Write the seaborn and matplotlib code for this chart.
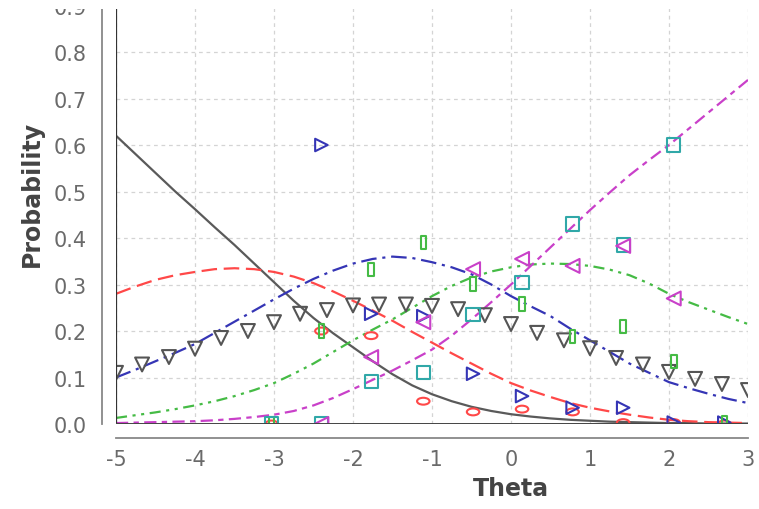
import numpy as np
import pandas as pd
import matplotlib
matplotlib.use("Agg")
import matplotlib.pyplot as plt
from matplotlib.path import Path
from matplotlib.patches import Rectangle
from matplotlib.transforms import Affine2D
import seaborn as sns

# ---- data ----
theta = [-5.0, -4.75, -4.5, -4.25, -4.0, -3.75, -3.5, -3.25, -3.0, -2.75,
         -2.5, -2.25, -2.0, -1.75, -1.5, -1.25, -1.0, -0.75, -0.5, -0.25,
         0.0, 0.25, 0.5, 0.75, 1.0, 1.25, 1.5, 1.75, 2.0, 2.25, 2.5, 2.75, 3.0]
p_cat0 = [0.62, 0.58, 0.54, 0.50, 0.462, 0.423, 0.385, 0.345, 0.305, 0.265,
          0.228, 0.195, 0.165, 0.135, 0.107, 0.083, 0.064, 0.049, 0.037, 0.028,
          0.021, 0.016, 0.012, 0.009, 0.007, 0.005, 0.004, 0.003, 0.002, 0.002,
          0.001, 0.001, 0.001]
p_cat1 = [0.28, 0.296, 0.31, 0.32, 0.327, 0.333, 0.335, 0.333, 0.327, 0.317,
          0.303, 0.285, 0.265, 0.244, 0.222, 0.198, 0.175, 0.152, 0.13, 0.108,
          0.088, 0.072, 0.058, 0.045, 0.035, 0.027, 0.02, 0.014, 0.009, 0.006,
          0.004, 0.003, 0.002]
p_cat2 = [0.10, 0.117, 0.135, 0.153, 0.172, 0.196, 0.22, 0.244, 0.268, 0.291,
          0.312, 0.33, 0.345, 0.355, 0.36, 0.357, 0.348, 0.337, 0.322, 0.3,
          0.275, 0.253, 0.232, 0.205, 0.18, 0.155, 0.13, 0.11, 0.09, 0.077,
          0.065, 0.054, 0.045]
p_cat3 = [0.013, 0.019, 0.025, 0.032, 0.04, 0.049, 0.06, 0.073, 0.088, 0.108,
          0.13, 0.155, 0.18, 0.203, 0.225, 0.25, 0.275, 0.297, 0.315, 0.328,
          0.337, 0.343, 0.345, 0.344, 0.34, 0.332, 0.32, 0.302, 0.28, 0.262,
          0.246, 0.23, 0.215]
p_cat4 = [0.002, 0.003, 0.004, 0.005, 0.006, 0.008, 0.011, 0.015, 0.02, 0.028,
          0.04, 0.056, 0.075, 0.095, 0.115, 0.137, 0.16, 0.19, 0.225, 0.262,
          0.30, 0.34, 0.38, 0.42, 0.46, 0.498, 0.535, 0.568, 0.60, 0.635,
          0.67, 0.705, 0.74]

obs_theta = [-3.03, -2.40, -1.77, -1.11, -0.48, 0.14, 0.78, 1.42, 2.06, 2.70]
obs_red = [0.0, 0.2, 0.19, 0.049, 0.026, 0.032, 0.026, 0.003, 0.003, 0.0]
obs_blue = [np.nan, 0.6, 0.237, 0.232, 0.108, 0.06, 0.035, 0.035, 0.003, 0.003]
obs_green = [0.0, 0.2, 0.333, 0.391, 0.301, 0.258, 0.189, 0.209, 0.135, 0.003]
obs_cyan = [0.0, 0.0, 0.092, 0.111, 0.236, 0.305, 0.43, 0.385, 0.60, np.nan]
obs_magenta = [np.nan, 0.0, 0.144, 0.219, 0.333, 0.355, 0.34, 0.383, 0.27, np.nan]

tri_theta = [-5.0, -4.67, -4.33, -4.0, -3.67, -3.33, -3.0, -2.67, -2.33, -2.0,
             -1.67, -1.33, -1.0, -0.67, -0.33, 0.0, 0.33, 0.67, 1.0, 1.33,
             1.67, 2.0, 2.33, 2.67, 3.0]
tri_vals = [0.11, 0.128, 0.144, 0.162, 0.185, 0.2, 0.219, 0.237, 0.245, 0.255,
            0.257, 0.257, 0.254, 0.247, 0.234, 0.215, 0.196, 0.18, 0.163, 0.142,
            0.128, 0.112, 0.097, 0.086, 0.073]

x_ticks = [-5, -4, -3, -2, -1, 0, 1, 2, 3]
y_ticks = [0.0, 0.1, 0.2, 0.3, 0.4, 0.5, 0.6, 0.7, 0.8, 0.9]

# ---- styling ----
sns.set_theme(style="white")
plt.rcParams['font.family'] = ['DejaVu Sans']

GRAY = '#5a5a5a'
RED = '#ff4848'
BLUE = '#3535b5'
GREEN = '#45bb45'
MAGENTA = '#c940c9'
CYAN = '#30a8a8'
TRI = '#555555'
TICK = '#6a6a6a'

fig = plt.figure(figsize=(7.59, 5.10), dpi=100)
ax = fig.add_axes([116/759, 85/510, (748-116)/759, 425/510])
ax.set_xlim(-5, 3)
ax.set_ylim(0, 0.914)

# grid
ax.set_xticks(x_ticks)
ax.set_yticks(y_ticks)
ax.grid(True, color='#d4d4d4', linestyle=(0, (3, 3)), linewidth=0.9)
ax.set_axisbelow(True)

# curves
curves = [
    (p_cat0, GRAY, '-'),
    (p_cat1, RED, (0, (7, 3))),
    (p_cat2, BLUE, (0, (7, 2.6, 1.4, 2.6))),
    (p_cat3, GREEN, (0, (5, 2.5, 1.4, 2.5, 1.4, 2.5))),
    (p_cat4, MAGENTA, (0, (5.5, 2.4, 2.4, 2.4))),
]
for vals, col, ls in curves:
    sns.lineplot(x=theta, y=vals, color=col, linestyle=ls, linewidth=1.6,
                 ax=ax, sort=False)

# custom marker shapes
ellipse = Path.unit_circle().transformed(Affine2D().scale(1.0, 0.55))
narrow_rect = Path([(-0.42, -1), (0.42, -1), (0.42, 1), (-0.42, 1), (-0.42, -1)],
                   [Path.MOVETO, Path.LINETO, Path.LINETO, Path.LINETO, Path.CLOSEPOLY])

def hollow(xs, ys, marker, size, col, lw=1.5):
    sns.scatterplot(x=xs, y=ys, marker=marker, s=size ** 2, color=col,
                    linewidth=lw, ax=ax, zorder=4)
    coll = ax.collections[-1]
    coll.set_facecolor('none')
    coll.set_edgecolor(col)
    coll.set_linewidth(lw)

hollow(tri_theta, tri_vals, 'v', 10, TRI)
hollow(obs_theta, obs_red, ellipse, 9, RED)
hollow(obs_theta, obs_blue, '>', 9, BLUE)
hollow(obs_theta, obs_green, narrow_rect, 9.5, GREEN)
hollow(obs_theta, obs_cyan, 's', 9.5, CYAN)
hollow(obs_theta, obs_magenta, '<', 10, MAGENTA)

# plot border lines
ax.axvline(-5, color='#333333', linewidth=1.6, zorder=5)
ax.axhline(0, color='#444444', linewidth=1.4, zorder=5)

# axes spines
for side in ['top', 'right']:
    ax.spines[side].set_visible(False)
for side in ['left', 'bottom']:
    ax.spines[side].set_position(('outward', 10))
    ax.spines[side].set_color('#888888')
    ax.spines[side].set_linewidth(1.3)

ax.set_xticklabels([str(t) for t in x_ticks])
ax.set_yticklabels([f"{t:.1f}" for t in y_ticks])
ax.tick_params(axis='both', which='both', direction='out', length=4, width=1.2,
               color='#888888', labelcolor=TICK, labelsize=15)
ax.tick_params(axis='y', pad=7)
ax.tick_params(axis='x', pad=4)

ax.set_xlabel('Theta', fontsize=17, fontweight='bold', color='#444444')
ax.set_ylabel('Probability', fontsize=17, fontweight='bold', color='#444444')
ax.xaxis.set_label_coords((511 - 116) / 632, (425 - 477) / 425)
ax.yaxis.set_label_coords((44 - 116) / 632, (425 - 194) / 425)

# the reference is cut off by a blank band along the top edge
fig.patches.append(Rectangle((0, 1 - 10/510), 1, 10/510, transform=fig.transFigure,
                             facecolor='white', edgecolor='none', zorder=100))

fig.savefig('out.png', dpi=100)
